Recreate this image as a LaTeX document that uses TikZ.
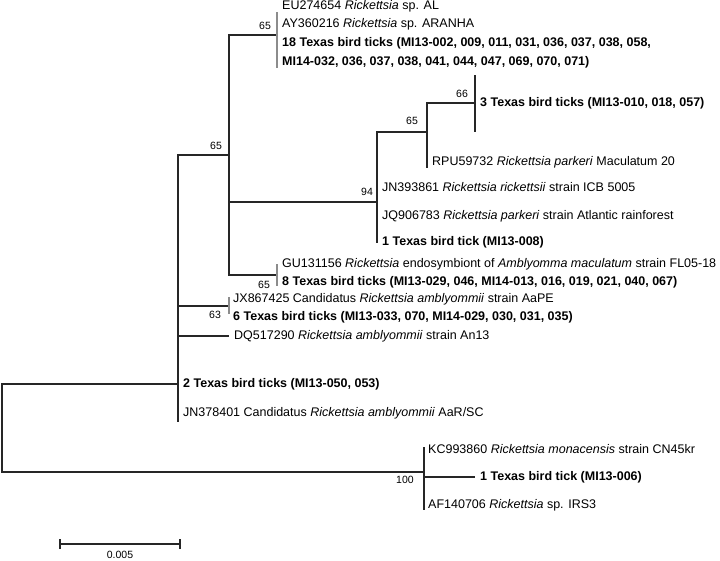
\documentclass[tikz,border=0pt]{standalone}
\usepackage{fontspec}
\setmainfont{Liberation Sans}
\usepackage{tikz}

\tikzset{
  leaf/.style={anchor=west,inner xsep=5pt,inner ysep=0pt,font=\fontsize{12.5}{14}\selectfont},
  boot/.style={inner sep=0pt,font=\fontsize{10.5}{12}\selectfont},
  branch/.style={draw=black!85,line width=1.2pt},
  zerobr/.style={draw=black!45,line width=1.2pt},
}

\begin{document}
\begin{tikzpicture}[x=1pt,y=-1pt]%
                \useasboundingbox (0,0) rectangle (720,560);

                % internal nodes
                \coordinate (root) at (2,428);
                \coordinate (n1) at (178,384);
                \coordinate (n1b) at (178,422);
                \coordinate (n2) at (229,155);
                \coordinate (n3) at (277,35);
                \coordinate (n3t) at (277,12);
                \coordinate (n3b) at (277,68);
                \coordinate (n4) at (377,202);
                \coordinate (n4b) at (377,243);
                \coordinate (n5) at (427,132);
                \coordinate (n5b) at (427,168);
                \coordinate (n6) at (475,103);
                \coordinate (n6t) at (475,75);
                \coordinate (n6b) at (475,132);
                \coordinate (n7) at (277,275);
                \coordinate (n7t) at (277,264);
                \coordinate (n7b) at (277,286);
                \coordinate (n8) at (229,306);
                \coordinate (n8t) at (229,297);
                \coordinate (n8b) at (229,314);
                \coordinate (n9) at (424,472);
                \coordinate (n9t) at (424,447);
                \coordinate (n9b) at (424,510);

                % leaves
                \node[leaf] (eu) at (277,6.5) {EU274654 \textit{Rickettsia} sp. AL};
                \node[leaf] (ay) at (277,24) {AY360216 \textit{Rickettsia} sp. ARANHA};
                \node[leaf,font=\fontsize{12.5}{14}\selectfont\bfseries] (tx18a) at (277,43) {18 Texas bird ticks (MI13-002, 009, 011, 031, 036, 037, 038, 058,};
                \node[leaf,font=\fontsize{12.5}{14}\selectfont\bfseries] (tx18b) at (277,62) {MI14-032, 036, 037, 038, 041, 044, 047, 069, 070, 071)};
                \node[leaf,font=\fontsize{12.5}{14}\selectfont\bfseries] (tx3) at (475,103) {3 Texas bird ticks (MI13-010, 018, 057)};
                \node[leaf] (rpu) at (427,162) {RPU59732 \textit{Rickettsia parkeri} Maculatum 20};
                \node[leaf] (jn39) at (377,187) {JN393861 \textit{Rickettsia rickettsii} strain ICB 5005};
                \node[leaf] (jq) at (377,216) {JQ906783 \textit{Rickettsia parkeri} strain Atlantic rainforest};
                \node[leaf,font=\fontsize{12.5}{14}\selectfont\bfseries] (tx1a) at (377,242) {1 Texas bird tick (MI13-008)};
                \node[leaf] (gu) at (277,264) {GU131156 \textit{Rickettsia} endosymbiont of \textit{Amblyomma maculatum} strain FL05-18};
                \node[leaf,font=\fontsize{12.5}{14}\selectfont\bfseries] (tx8) at (277,282) {8 Texas bird ticks (MI13-029, 046, MI14-013, 016, 019, 021, 040, 067)};
                \node[leaf] (jx) at (228,299) {JX867425 Candidatus \textit{Rickettsia amblyommii} strain AaPE};
                \node[leaf,font=\fontsize{12.5}{14}\selectfont\bfseries] (tx6) at (228,317) {6 Texas bird ticks (MI13-033, 070, MI14-029, 030, 031, 035)};
                \node[leaf] (dq) at (229,336) {DQ517290 \textit{Rickettsia amblyommii} strain An13};
                \node[leaf,font=\fontsize{12.5}{14}\selectfont\bfseries] (tx2) at (178,384) {2 Texas bird ticks (MI13-050, 053)};
                \node[leaf] (jn37) at (178,413) {JN378401 Candidatus \textit{Rickettsia amblyommii} AaR/SC};
                \node[leaf] (kc) at (423,449) {KC993860 \textit{Rickettsia monacensis} strain CN45kr};
                \node[leaf,font=\fontsize{12.5}{14}\selectfont\bfseries] (tx1b) at (475,477) {1 Texas bird tick (MI13-006)};
                \node[leaf] (af) at (423,505) {AF140706 \textit{Rickettsia} sp. IRS3};

                % bootstrap values
                \node[boot] (b1) at (265,26) {65};
                \node[boot] (b2) at (216,146) {65};
                \node[boot] (b3) at (462,94) {66};
                \node[boot] (b4) at (412,121) {65};
                \node[boot] (b5) at (367,192) {94};
                \node[boot] (b6) at (264,285) {65};
                \node[boot] (b7) at (215,315) {63};
                \node[boot] (b8) at (405,480) {100};

                % branches
                \path [branch] (root) |- (n1);
                \path [branch] (root) |- (n9);
                \path [branch] (n1) |- (n2);
                \path [branch] (n1) |- (n8);
                \path [branch] (n1) |- (dq.west);
                \path [branch] (n1) -- (n1b);
                \path [branch,line width=2.2pt] (178,348) -- (178,375);
                \path [branch] (n2) |- (n3);
                \path [branch] (n2) |- (n4);
                \path [branch] (n2) |- (n7);
                \path [zerobr] (n3t) -- (n3b);
                \path [branch] (n4) |- (n5);
                \path [branch] (n4) -- (n4b);
                \path [branch] (n5) |- (n6);
                \path [branch] (n5) -- (n5b);
                \path [branch] (n6t) -- (n6b);
                \path [zerobr] (n7t) -- (n7b);
                \path [zerobr] (n8t) -- (n8b);
                \path [branch] (n9t) -- (n9b);
                \path [branch,line width=2.2pt] (424,478) -- (424,502);
                \path [branch] (n9 |- tx1b) -- (tx1b.west);

                % scale bar
                \coordinate (sl) at (60,544);
                \coordinate (sr) at (180,544);
                \path [branch] (sl) -- (sr);
                \path [branch] ([yshift=-5]sl) -- ([yshift=5]sl);
                \path [branch] ([yshift=-5]sr) -- ([yshift=5]sr);
                \node[boot] (scale) at (120,555) {0.005};
            \end{tikzpicture}
\end{document}
